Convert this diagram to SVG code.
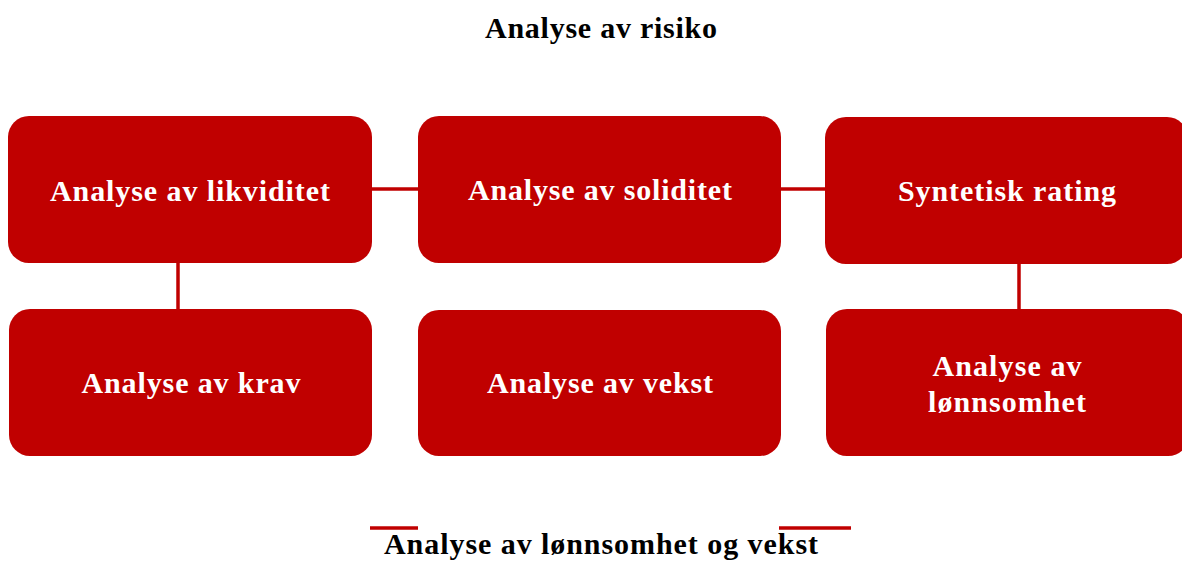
<svg xmlns="http://www.w3.org/2000/svg" width="1182" height="561" viewBox="0 0 1182 561">
<style>
.box{fill:#C00000;}
.lbl{font-family:"Liberation Serif","Times New Roman",serif;font-weight:bold;font-size:30px;fill:#FFFFFF;text-anchor:middle;}
.ttl{font-family:"Liberation Serif","Times New Roman",serif;font-weight:bold;font-size:30px;fill:#000000;text-anchor:middle;}
.con{stroke:#C00000;stroke-width:3.5;fill:none;}
</style>
<rect width="1182" height="561" fill="#FFFFFF"/>
<text class="ttl" x="601" y="38" textLength="232" lengthAdjust="spacing">Analyse av risiko</text>
<g id="connectors">
<line class="con" x1="372" y1="189" x2="418" y2="189"/>
<line class="con" x1="781" y1="189" x2="825" y2="189"/>
<line class="con" x1="178" y1="263" x2="178" y2="310"/>
<line class="con" x1="1019" y1="264" x2="1019" y2="310"/>
</g>
<g id="n1"><rect class="box" x="8" y="116" width="364" height="147" rx="21"/><text class="lbl" x="190" y="201" textLength="280" lengthAdjust="spacing">Analyse av likviditet</text></g>
<g id="n2"><rect class="box" x="418" y="116" width="363" height="147" rx="21"/><text class="lbl" x="600" y="200" textLength="264" lengthAdjust="spacing">Analyse av soliditet</text></g>
<g id="n3"><rect class="box" x="825" y="117" width="363" height="147" rx="21"/><text class="lbl" x="1007" y="201" textLength="218" lengthAdjust="spacing">Syntetisk rating</text></g>
<g id="n4"><rect class="box" x="9" y="309" width="363" height="147" rx="21"/><text class="lbl" x="191" y="393" textLength="219" lengthAdjust="spacing">Analyse av krav</text></g>
<g id="n5"><rect class="box" x="418" y="310" width="363" height="146" rx="21"/><text class="lbl" x="600" y="393" textLength="226" lengthAdjust="spacing">Analyse av vekst</text></g>
<g id="n6"><rect class="box" x="826" y="309" width="363" height="147" rx="21"/><text class="lbl" x="1007" y="376" textLength="149" lengthAdjust="spacing">Analyse av</text><text class="lbl" x="1007" y="412" textLength="158" lengthAdjust="spacing">lønnsomhet</text></g>
<g id="footer">
<line class="con" x1="370" y1="528" x2="418" y2="528"/>
<line class="con" x1="779" y1="528" x2="851" y2="528"/>
<text class="ttl" x="601" y="554" textLength="434" lengthAdjust="spacing">Analyse av lønnsomhet og vekst</text>
</g>
</svg>
